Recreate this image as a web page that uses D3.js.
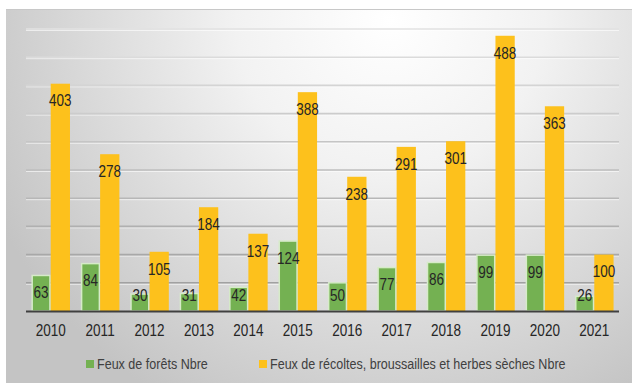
<!DOCTYPE html>
<html><head><meta charset="utf-8">
<script src="https://cdn.jsdelivr.net/npm/d3@7"></script>
<style>
html,body{margin:0;padding:0;background:#fff;}
svg{display:block;}
text{font-family:"Liberation Sans",Arial,sans-serif;}
</style></head>
<body>
<svg id="chart" width="632" height="383"></svg>
<script>
const years = ["2010","2011","2012","2013","2014","2015","2016","2017","2018","2019","2020","2021"];
const forets = [63,84,30,31,42,124,50,77,86,99,99,26];
const recoltes = [403,278,105,184,137,388,238,291,301,488,363,100];
const seriesNames = ["Feux de forêts Nbre","Feux de récoltes, broussailles et herbes sèches Nbre"];
const gridTicks = [0,50,100,150,200,250,300,350,400,450,500];

const W = 632, H = 383;
const NARROW = 0.82;
const svg = d3.select("#chart");
const defs = svg.append("defs");
const rg = defs.append("radialGradient").attr("id","bg")
  .attr("gradientUnits","userSpaceOnUse")
  .attr("cx",390).attr("cy",20).attr("r",440)
  .attr("fx",390).attr("fy",20);
rg.append("stop").attr("offset","0%").attr("stop-color","#ffffff");
rg.append("stop").attr("offset","35%").attr("stop-color","#f2f2f2");
rg.append("stop").attr("offset","100%").attr("stop-color","#c4c4c4");

svg.append("rect").attr("x",6).attr("y",9).attr("width",W-6).attr("height",H-9)
  .attr("fill","url(#bg)");
svg.append("line").attr("x1",6).attr("x2",W).attr("y1",9.5).attr("y2",9.5)
  .attr("stroke","#c8c8c8").attr("stroke-width",1);

const margin = {left:26, right:13, top:29, bottom:72};
const x = d3.scaleBand().domain(years).range([margin.left, W - margin.right]).paddingInner(0.22).paddingOuter(0.11);
const x1 = d3.scaleBand().domain([0,1]).range([0, x.bandwidth()]);
const y = d3.scaleLinear().domain([0,500]).range([311, 29]);

const gridColor = d3.scaleLinear().domain([500,0]).range(["#e2e2e2","#9a9a9a"]);
const g = svg.append("g");
g.selectAll("line.gs").data(gridTicks.slice(1)).join("line")
  .attr("x1",margin.left).attr("x2",W-margin.right)
  .attr("y1",d=>y(d)+1.5).attr("y2",d=>y(d)+1.5)
  .attr("stroke","rgba(255,255,255,0.6)").attr("stroke-width",1);
g.selectAll("line.gl").data(gridTicks.slice(1)).join("line")
  .attr("x1",margin.left).attr("x2",W-margin.right)
  .attr("y1",d=>y(d)).attr("y2",d=>y(d))
  .attr("stroke",d=>gridColor(d)).attr("stroke-width",1.6);

const colors = ["#74b152","#fdc11c"];
const data = years.map((yr,i)=>({yr, vals:[forets[i],recoltes[i]]}));
const groups = svg.append("g").selectAll("g").data(data).join("g")
  .attr("transform",d=>`translate(${x(d.yr)},0)`);
groups.selectAll("rect").data(d=>d.vals.map((v,k)=>({v,k}))).join("rect")
  .attr("x",d=>x1(d.k)+(d.k===0?0.75:0))
  .attr("width",d=>x1.bandwidth()-(d.k===0?1.5:0))
  .attr("y",d=>y(d.v))
  .attr("height",d=>y(0)-y(d.v))
  .attr("fill",d=>colors[d.k])
  .attr("stroke",d=>d.k===0?"#d6ebc8":"none")
  .attr("stroke-width",1.5);

groups.selectAll("text").data(d=>d.vals.map((v,k)=>({v,k}))).join("text")
  .attr("transform",d=>`translate(${x1(d.k)+x1.bandwidth()/2},${Math.min(y(d.v)+17, 295.5)}) scale(${NARROW},1)`)
  .attr("dy","0.35em")
  .attr("text-anchor","middle")
  .attr("font-size",16.5)
  .attr("fill","#262626")
  .text(d=>d.v);

// baseline
svg.append("line").attr("x1",margin.left).attr("x2",W-margin.right)
  .attr("y1",y(0)+0.5).attr("y2",y(0)+0.5).attr("stroke","#404040").attr("stroke-width",2.2);

// x axis
const xAxis = d3.axisBottom(x).tickSize(0).tickPadding(0);
const ax = svg.append("g").attr("transform",`translate(0,${y(0)})`).call(xAxis);
ax.select(".domain").remove();
ax.selectAll("text").attr("y",null).attr("dy",null)
  .attr("transform",`translate(0,19) scale(${NARROW},1)`)
  .attr("dominant-baseline","central")
  .attr("font-size",16.5).attr("fill","#262626")
  .attr("font-family",null);

// legend
const legend = svg.append("g");
const lx = [86,259];
seriesNames.forEach((n,i)=>{
  legend.append("rect").attr("x",lx[i]).attr("y",360).attr("width",8).attr("height",8).attr("fill",colors[i]);
  legend.append("text").attr("transform",`translate(${lx[i]+11},364) scale(${NARROW},1)`).attr("dy","0.35em")
    .attr("font-size",15.3).attr("fill","#404040").text(n);
});
</script>
</body></html>
